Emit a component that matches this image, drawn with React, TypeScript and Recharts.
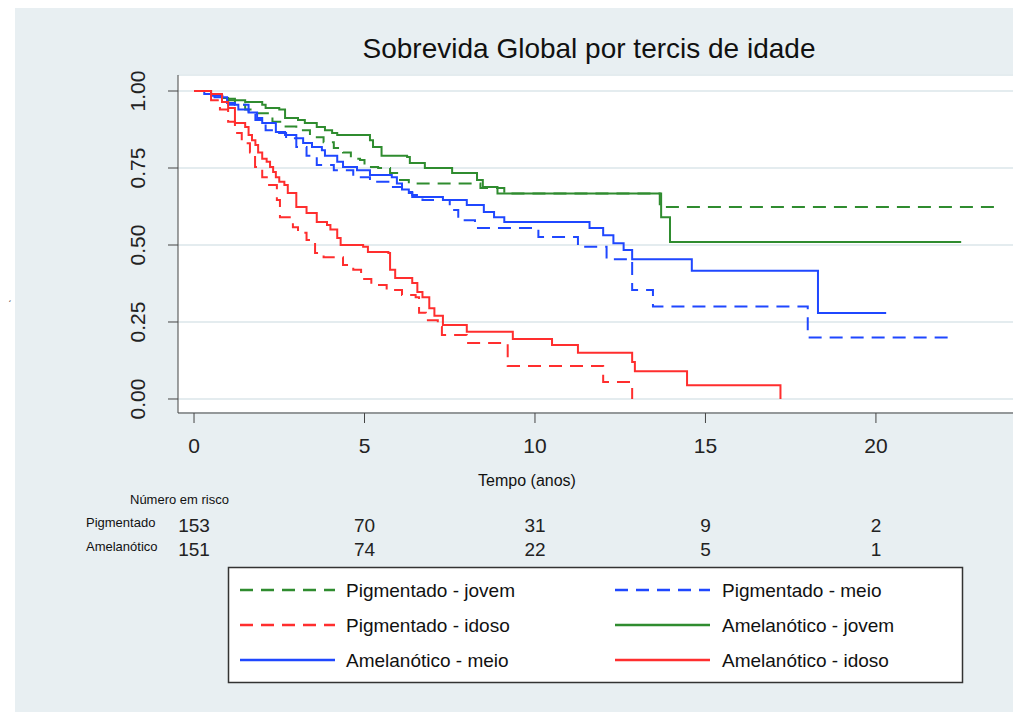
import { LineChart, Line, XAxis, YAxis, CartesianGrid } from 'recharts'

// Kaplan-Meier steps: [tempo (anos), sobrevida]
const pigJovem: [number, number][] = [
  [0, 1], [0.4, 0.99], [0.8, 0.975], [1.2, 0.955], [1.5, 0.94], [1.73, 0.928], [2.3, 0.9],
  [2.6, 0.885], [3.0, 0.873], [3.4, 0.85], [3.8, 0.834], [4.1, 0.815], [4.37, 0.8], [4.6, 0.78],
  [4.87, 0.776], [5.0, 0.753], [5.4, 0.75], [5.75, 0.734], [6.0, 0.711], [6.3, 0.7], [8.4, 0.685],
  [9.1, 0.667], [13.66, 0.623], [23.5, 0.623],
]
const pigMeio: [number, number][] = [
  [0, 1], [0.5, 0.985], [1.0, 0.955], [1.6, 0.93], [1.8, 0.906], [2.1, 0.873], [2.4, 0.864],
  [2.7, 0.847], [3.0, 0.818], [3.3, 0.79], [3.6, 0.76], [4.1, 0.743], [4.67, 0.72], [5.16, 0.705],
  [5.7, 0.688], [6.1, 0.672], [6.4, 0.662], [6.7, 0.646], [7.5, 0.614], [7.75, 0.58], [8.24, 0.555],
  [10.1, 0.526], [11.26, 0.494], [12.1, 0.454], [12.85, 0.354], [13.46, 0.3], [18.0, 0.2], [22.3, 0.2],
]
const pigIdoso: [number, number][] = [
  [0, 1], [0.4, 0.99], [0.5, 0.97], [0.76, 0.94], [1.0, 0.9], [1.2, 0.864], [1.4, 0.83], [1.64, 0.8],
  [1.79, 0.753], [2.0, 0.72], [2.17, 0.695], [2.43, 0.646], [2.52, 0.59], [2.9, 0.558], [3.05, 0.54],
  [3.3, 0.516], [3.55, 0.474], [3.8, 0.46], [4.37, 0.435], [4.67, 0.42], [4.9, 0.39], [5.2, 0.37],
  [5.65, 0.354], [6.1, 0.338], [6.5, 0.33], [6.6, 0.28], [6.8, 0.256], [7.15, 0.234], [7.27, 0.208],
  [8.0, 0.182], [9.2, 0.107], [12.0, 0.055], [12.85, 0],
]
const ameJovem: [number, number][] = [
  [0, 1], [0.5, 0.99], [0.82, 0.977], [1.0, 0.97], [1.5, 0.964], [2.0, 0.955], [2.1, 0.945],
  [2.5, 0.94], [2.67, 0.912], [3.05, 0.906], [3.25, 0.896], [3.6, 0.883], [3.84, 0.873], [4.05, 0.864],
  [4.2, 0.857], [5.16, 0.84], [5.25, 0.818], [5.5, 0.79], [6.25, 0.786], [6.33, 0.766], [6.77, 0.75],
  [7.57, 0.734], [8.3, 0.711], [8.47, 0.688], [8.9, 0.667], [13.7, 0.59], [13.96, 0.51], [22.5, 0.51],
]
const ameMeio: [number, number][] = [
  [0, 1], [0.3, 0.99], [0.6, 0.98], [0.97, 0.961], [1.2, 0.955], [1.3, 0.94], [1.6, 0.93],
  [1.85, 0.912], [2.0, 0.896], [2.4, 0.867], [2.67, 0.857], [3.0, 0.847], [3.2, 0.831], [3.46, 0.818],
  [3.75, 0.808], [3.84, 0.79], [4.2, 0.77], [4.37, 0.753], [4.78, 0.743], [5.16, 0.727], [5.8, 0.72],
  [5.95, 0.7], [6.1, 0.68], [6.3, 0.669], [6.4, 0.656], [7.3, 0.646], [8.0, 0.63], [8.5, 0.607],
  [8.8, 0.59], [9.1, 0.575], [11.6, 0.555], [12.0, 0.532], [12.3, 0.506], [12.6, 0.484],
  [12.85, 0.454], [14.6, 0.416], [18.3, 0.279], [20.3, 0.279],
]
const ameIdoso: [number, number][] = [
  [0, 1], [0.5, 0.99], [0.82, 0.964], [1.0, 0.945], [1.2, 0.896], [1.5, 0.883], [1.6, 0.857],
  [1.7, 0.84], [1.8, 0.825], [1.88, 0.8], [2.0, 0.78], [2.13, 0.77], [2.23, 0.753], [2.32, 0.737],
  [2.4, 0.72], [2.5, 0.705], [2.65, 0.695], [2.75, 0.669], [3.0, 0.623], [3.3, 0.604], [3.6, 0.575],
  [3.9, 0.565], [4.0, 0.55], [4.2, 0.523], [4.3, 0.5], [4.96, 0.494], [5.1, 0.477], [5.7, 0.474],
  [5.75, 0.42], [5.9, 0.393], [6.4, 0.377], [6.55, 0.347], [6.7, 0.33], [6.9, 0.295], [7.05, 0.27],
  [7.3, 0.24], [8.0, 0.218], [9.35, 0.195], [10.5, 0.175], [11.26, 0.15], [12.85, 0.12],
  [12.93, 0.09], [14.46, 0.045], [17.2, 0],
]

const xTicks = [0, 5, 10, 15, 20]
const yTicks = [0, 0.25, 0.5, 0.75, 1]
const riskTimes = [0, 5, 10, 15, 20]
const riskPigmentado = [153, 70, 31, 9, 2]
const riskAmelanotico = [151, 74, 22, 5, 1]

const GREEN = '#2f8c2f'
const BLUE = '#1f47ff'
const RED = '#ff2e2e'
const DASH = '13 8'
const FONT = '"Liberation Sans", Arial, Helvetica, sans-serif'

const series = [
  { name: 'Pigmentado - jovem', data: pigJovem, color: GREEN, dashed: true },
  { name: 'Pigmentado - meio', data: pigMeio, color: BLUE, dashed: true },
  { name: 'Pigmentado - idoso', data: pigIdoso, color: RED, dashed: true },
  { name: 'Amelanótico - jovem', data: ameJovem, color: GREEN, dashed: false },
  { name: 'Amelanótico - meio', data: ameMeio, color: BLUE, dashed: false },
  { name: 'Amelanótico - idoso', data: ameIdoso, color: RED, dashed: false },
]

const toPoints = (arr: [number, number][]) => arr.map(([t, s]) => ({ t, s }))

// chart geometry (plot area 178..1013 x 75..413)
const W = 1021
const H = 712
const X_DOMAIN: [number, number] = [-0.47, 24.02]
const Y_DOMAIN: [number, number] = [-0.0455, 1.052]
const xPos = (t: number) => 178 + ((t - X_DOMAIN[0]) / (X_DOMAIN[1] - X_DOMAIN[0])) * (1013 - 178)

const YTick = ({ y, payload }: any) => (
  <text
    x={138}
    y={y}
    transform={`rotate(-90 138 ${y})`}
    textAnchor="middle"
    dominantBaseline="central"
    fontSize={21}
    fontFamily={FONT}
    fill="#222"
  >
    {Number(payload.value).toFixed(2)}
  </text>
)

const XTick = ({ x, payload }: any) => (
  <text x={x} y={445} textAnchor="middle" dominantBaseline="central" fontSize={21} fontFamily={FONT} fill="#222">
    {payload.value}
  </text>
)

export default function App() {
  const legendRows = [0, 1, 2]
  return (
    <div style={{ position: 'relative', width: W, height: H, margin: '-8px 0 0 -8px', background: '#fff', overflow: 'hidden' }}>
      <div style={{ position: 'absolute', left: 15, top: 7, right: 0, bottom: 0, background: '#e8eff2' }} />
      <div style={{ position: 'absolute', left: 0, top: 0 }}>
        <LineChart width={W} height={H} margin={{ top: 75, right: 8, bottom: 259, left: 0 }}>
          <CartesianGrid vertical={false} fill="#ffffff" stroke="#e4ecef" strokeWidth={2} />
          <XAxis
            type="number"
            dataKey="t"
            domain={X_DOMAIN}
            ticks={xTicks}
            allowDataOverflow
            height={40}
            tickSize={10}
            stroke="#444"
            tick={<XTick />}
          />
          <YAxis
            type="number"
            dataKey="s"
            domain={Y_DOMAIN}
            ticks={yTicks}
            allowDataOverflow
            width={178}
            tickSize={10}
            stroke="#444"
            tick={<YTick />}
          />
          {series.map((s) => (
            <Line
              key={s.name}
              name={s.name}
              data={toPoints(s.data)}
              dataKey="s"
              type="stepAfter"
              stroke={s.color}
              strokeWidth={2}
              strokeDasharray={s.dashed ? DASH : undefined}
              dot={false}
              isAnimationActive={false}
            />
          ))}
        </LineChart>
      </div>
      <svg width={W} height={H} style={{ position: 'absolute', left: 0, top: 0, pointerEvents: 'none' }} fontFamily={FONT}>
        <text x={589} y={48} textAnchor="middle" dominantBaseline="central" fontSize={28} fill="#111">
          Sobrevida Global por tercis de idade
        </text>
        <text x={527} y={480} textAnchor="middle" dominantBaseline="central" fontSize={16} fill="#111">
          Tempo (anos)
        </text>
        <text x={8} y={300} fontSize={10} fill="#333">ˏ</text>

        <text x={130} y={499} dominantBaseline="central" fontSize={13} fill="#111">Número em risco</text>
        <text x={86} y={522} dominantBaseline="central" fontSize={13} fill="#111">Pigmentado</text>
        <text x={86} y={546} dominantBaseline="central" fontSize={13} fill="#111">Amelanótico</text>
        {riskTimes.map((t, i) => (
          <g key={t}>
            <text x={xPos(t)} y={525} textAnchor="middle" dominantBaseline="central" fontSize={19} fill="#222">
              {riskPigmentado[i]}
            </text>
            <text x={xPos(t)} y={549} textAnchor="middle" dominantBaseline="central" fontSize={19} fill="#222">
              {riskAmelanotico[i]}
            </text>
          </g>
        ))}

        <rect x={228.5} y={567.5} width={734} height={115} fill="#fff" stroke="#333" strokeWidth={1.5} />
        {series.map((s, i) => {
          const col = i % 2
          const row = legendRows[Math.floor(i / 2)]
          const lx = col === 0 ? 240 : 615
          const tx = col === 0 ? 346 : 722
          const y = 590 + row * 35
          return (
            <g key={s.name}>
              <line x1={lx} x2={lx + 95} y1={y} y2={y} stroke={s.color} strokeWidth={2.5} strokeDasharray={s.dashed ? DASH : undefined} />
              <text x={tx} y={y} dominantBaseline="central" fontSize={19} fill="#111">{s.name}</text>
            </g>
          )
        })}
      </svg>
    </div>
  )
}
